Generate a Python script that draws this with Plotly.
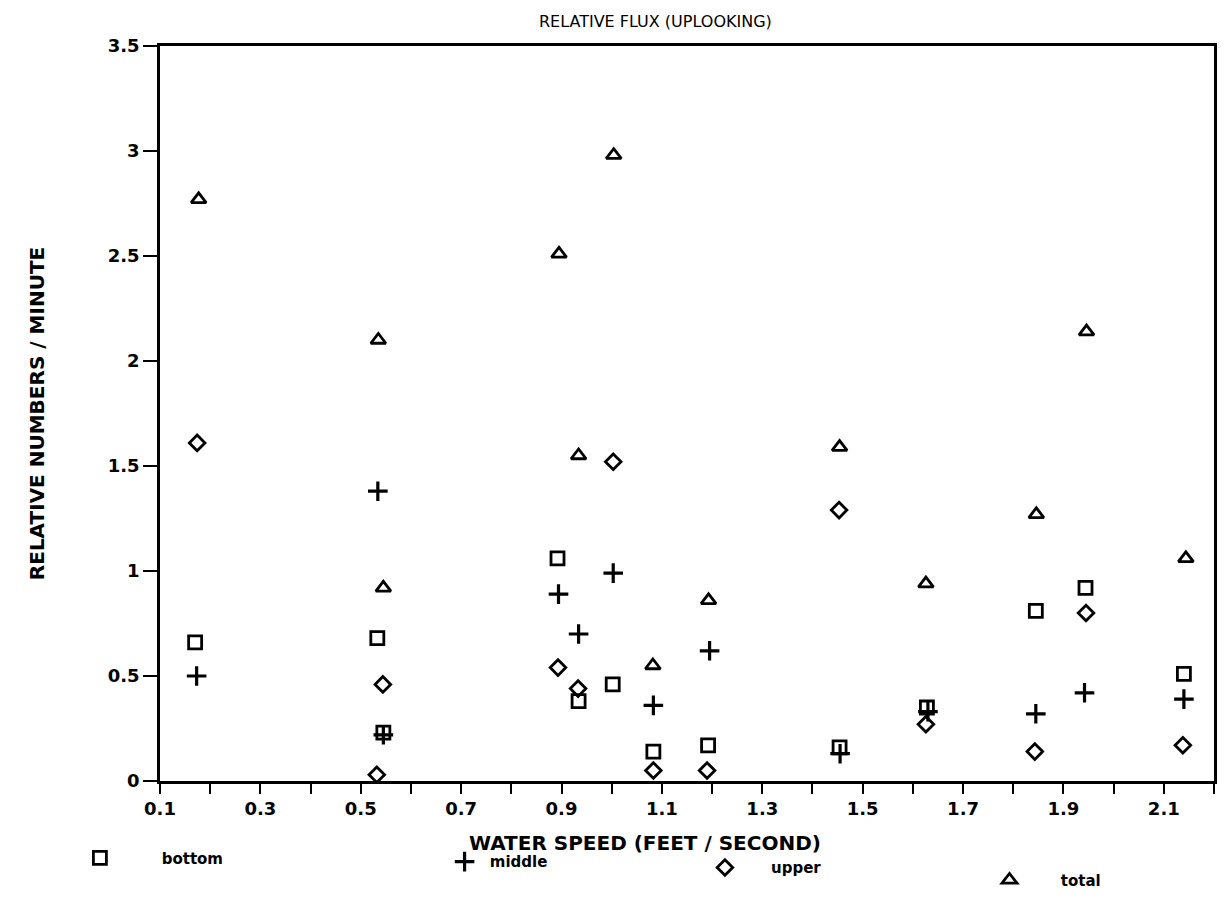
import plotly.graph_objects as go

# ---- data ----
bottom_x = [0.17, 0.533, 0.545, 0.892, 0.934, 1.002, 1.083, 1.192, 1.454, 1.628, 1.845, 1.944, 2.14]
bottom_y = [0.66, 0.68, 0.23, 1.06, 0.38, 0.46, 0.14, 0.17, 0.16, 0.35, 0.81, 0.92, 0.51]

middle_x = [0.173, 0.534, 0.545, 0.894, 0.934, 1.003, 1.083, 1.195, 1.455, 1.63, 1.845, 1.942, 2.14]
middle_y = [0.50, 1.38, 0.22, 0.89, 0.70, 0.99, 0.36, 0.62, 0.13, 0.33, 0.32, 0.42, 0.39]

upper_x = [0.174, 0.532, 0.544, 0.893, 0.933, 1.003, 1.083, 1.19, 1.453, 1.626, 1.843, 1.945, 2.138]
upper_y = [1.61, 0.03, 0.46, 0.54, 0.44, 1.52, 0.05, 0.05, 1.29, 0.27, 0.14, 0.80, 0.17]

total_x = [0.177, 0.535, 0.545, 0.895, 0.934, 1.004, 1.082, 1.193, 1.454, 1.626, 1.846, 1.946, 2.144]
total_y = [2.77, 2.10, 0.92, 2.51, 1.55, 2.98, 0.55, 0.86, 1.59, 0.94, 1.27, 2.14, 1.06]

x_tickvals = [round(0.1 + 0.1 * i, 1) for i in range(22)]
x_ticktext = [("%.1f" % v) if i % 2 == 0 else "" for i, v in enumerate(x_tickvals)]
y_tickvals = [0, 0.5, 1, 1.5, 2, 2.5, 3, 3.5]
y_ticktext = ["0", "0.5", "1", "1.5", "2", "2.5", "3", "3.5"]

NB = "\u00a0"
FONT = "DejaVu Sans"

fig = go.Figure()
fig.add_trace(go.Scatter(
    x=bottom_x, y=bottom_y, mode="markers", name=NB * 8 + "bottom", legend="legend2",
    marker=dict(symbol="square-open", size=13, color="black", line=dict(width=2.8, color="black"))))
fig.add_trace(go.Scatter(
    x=middle_x, y=middle_y, mode="markers", name=NB * 1 + "middle", legend="legend3",
    marker=dict(symbol="cross-thin", size=14, color="black", line=dict(width=3.2, color="black"))))
fig.add_trace(go.Scatter(
    x=upper_x, y=upper_y, mode="markers", name=NB * 5 + "upper", legend="legend4",
    marker=dict(symbol="diamond-open", size=12, color="black", line=dict(width=2.8, color="black"))))
fig.add_trace(go.Scatter(
    x=total_x, y=total_y, mode="markers", name=NB * 6 + "total", legend="legend5",
    marker=dict(symbol="triangle-up-open", size=13, color="black", line=dict(width=2.8, color="black"))))

leg_common = dict(orientation="h", xanchor="left", yanchor="middle", bgcolor="rgba(0,0,0,0)",
                  font=dict(family=FONT, size=15, color="black", weight="bold"))

fig.update_layout(
    width=1224, height=911,
    paper_bgcolor="white", plot_bgcolor="white",
    margin=dict(l=152, r=18, t=38, b=138),
    font=dict(family=FONT, color="black"),
    showlegend=True,
    title=dict(text="RELATIVE FLUX (UPLOOKING)", x=0.47, xref="paper", y=1 - 13 / 911,
               yanchor="middle", font=dict(family=FONT, size=16, color="black")),
    xaxis=dict(range=[0.1, 2.2], tickvals=x_tickvals, ticktext=x_ticktext,
               ticks="outside", ticklen=10, tickwidth=2, tickcolor="black",
               showline=True, linewidth=2.5, linecolor="black", mirror=True,
               showgrid=False, zeroline=False,
               tickfont=dict(family=FONT, size=18, color="black", weight="bold")),
    yaxis=dict(range=[0, 3.5], tickvals=y_tickvals, ticktext=y_ticktext,
               ticks="outside", ticklen=14, tickwidth=2, tickcolor="black",
               showline=True, linewidth=2.5, linecolor="black", mirror=True,
               showgrid=False, zeroline=False,
               tickfont=dict(family=FONT, size=18, color="black", weight="bold"),
               title=dict(text="RELATIVE NUMBERS / MINUTE", standoff=58,
                          font=dict(family=FONT, size=20, color="black", weight="bold"))),
    annotations=[dict(text="WATER SPEED (FEET / SECOND)", xref="paper", yref="paper",
                      x=0.46, y=-0.084, xanchor="center", yanchor="middle", showarrow=False,
                      font=dict(family=FONT, size=20, color="black", weight="bold"))],
    legend2=dict(x=-0.076, y=-0.105, **leg_common),
    legend3=dict(x=0.270, y=-0.110, **leg_common),
    legend4=dict(x=0.517, y=-0.118, **leg_common),
    legend5=dict(x=0.787, y=-0.135, **leg_common),
)

fig.write_html("out.html")
